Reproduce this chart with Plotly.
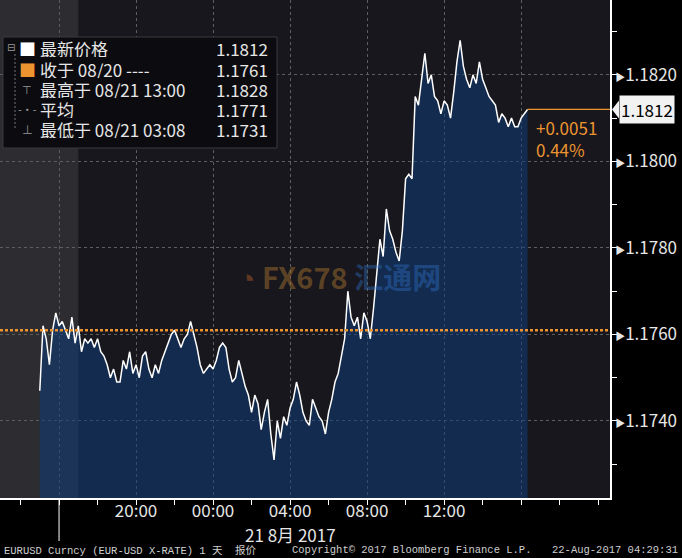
import plotly.graph_objects as go
import pandas as pd

# ---------------- data ----------------
start_time = "2017-08-20 15:00"   # first sample, 10-minute bars
prices = [
    1.1747, 1.1762, 1.1759, 1.1753, 1.1761, 1.1765, 1.1762, 1.1763, 1.1761, 1.1759,
    1.1764, 1.1758, 1.1762, 1.1756, 1.1759, 1.1758, 1.1759, 1.1757, 1.1759, 1.1756,
    1.1755, 1.1753, 1.1750, 1.1752, 1.1749, 1.1749, 1.1754, 1.1752, 1.1756, 1.1751,
    1.1753, 1.1750, 1.1755, 1.1756, 1.1752, 1.1750, 1.1753, 1.1751, 1.1754, 1.1756,
    1.1758, 1.1760, 1.1761, 1.1759, 1.1757, 1.1759, 1.1760, 1.1763, 1.1760, 1.1757,
    1.1753, 1.1751, 1.1752, 1.1753, 1.1752, 1.1754, 1.1757, 1.1758, 1.1757, 1.1752,
    1.1749, 1.1750, 1.1754, 1.1751, 1.1748, 1.1746, 1.1742, 1.1746, 1.1744, 1.1738,
    1.1742, 1.1745, 1.1737, 1.1731, 1.1740, 1.1736, 1.1741, 1.1739, 1.1743, 1.1745,
    1.1749, 1.1746, 1.1742, 1.1740, 1.1739, 1.1745, 1.1743, 1.1741, 1.1740, 1.1737,
    1.1742, 1.1745, 1.1749, 1.1751, 1.1755, 1.1759, 1.1770, 1.1764, 1.1762, 1.1764,
    1.1759, 1.1765, 1.1763, 1.1759, 1.1766, 1.1775, 1.1782, 1.1778, 1.1789, 1.1784,
    1.1782, 1.1779, 1.1777, 1.1784, 1.1796, 1.1797, 1.1796, 1.1815, 1.1813, 1.1819,
    1.1825, 1.1818, 1.1820, 1.1815, 1.1814, 1.1811, 1.1814, 1.1813, 1.1810, 1.1816,
    1.1823, 1.1828, 1.1822, 1.1819, 1.1817, 1.1820, 1.1818, 1.1823, 1.1819, 1.1817,
    1.1815, 1.1814, 1.1813, 1.1809, 1.1811, 1.1810, 1.1808, 1.1810, 1.1808, 1.1808,
    1.1810, 1.1811, 1.1812,
]
times = pd.date_range(start_time, periods=len(prices), freq="10min")

prev_close = 1.1761
legend_labels = ["最新价格", "收于 08/20 ----", "最高于 08/21 13:00", "平均", "最低于 08/21 03:08"]
legend_values = ["1.1812", "1.1761", "1.1828", "1.1771", "1.1731"]
change_text = "+0.0051"
change_pct = "0.44%"

x_range = ["2017-08-20 12:56", "2017-08-21 20:37"]
y_range = [1.17222, 1.18373]
prev_session_end = "2017-08-20 17:00"
day_separator = "2017-08-20 16:00"
x_tickvals = ["2017-08-20 16:00", "2017-08-20 20:00", "2017-08-21 00:00", "2017-08-21 04:00",
              "2017-08-21 08:00", "2017-08-21 12:00", "2017-08-21 16:00"]
x_ticktext = ["", "20:00", "00:00", "04:00", "08:00", "12:00", ""]
y_tickvals = [1.1740, 1.1760, 1.1780, 1.1800, 1.1820]
y_ticktext = ["1.1740", "1.1760", "1.1780", "1.1800", "1.1820"]
date_label = "21 8月 2017"
footer_left = "EURUSD Curncy (EUR-USD X-RATE) 1 天  报价"
footer_mid = "Copyright© 2017 Bloomberg Finance L.P."
footer_right = "22-Aug-2017 04:29:31"

# ---------------- layout helpers ----------------
W, H = 682, 558
PW, PH = 610, 498          # plot area in pixels


def px(x):
    return x / PW


def py(y):
    return 1 - y / PH


FONT = "Noto Sans CJK SC"
TXT = "#e6e6e6"
ORANGE = "#ec9430"

fig = go.Figure()
fig.add_trace(go.Scatter(
    x=times, y=prices, mode="lines",
    line=dict(color="white", width=1.5),
    fill="tozeroy", fillcolor="rgba(16,60,120,0.55)",
    hoverinfo="skip", showlegend=False,
))

shapes = []
# previous-session grey band
shapes.append(dict(type="rect", xref="x", yref="paper", x0=x_range[0], x1=prev_session_end,
                   y0=0, y1=1, fillcolor="#2c2c31", line_width=0, layer="below"))
# previous close line
shapes.append(dict(type="line", xref="paper", yref="y", x0=0, x1=1, y0=prev_close, y1=prev_close,
                   line=dict(color=ORANGE, width=2.5, dash="3px,2px"), layer="above"))
# last price line to axis
shapes.append(dict(type="line", xref="x", yref="y", x0=times[-1], x1=x_range[1],
                   y0=prices[-1], y1=prices[-1], line=dict(color=ORANGE, width=1.2)))
# day separator below axis
shapes.append(dict(type="line", xref="x", yref="paper", x0=day_separator, x1=day_separator,
                   y0=0, y1=py(541), line=dict(color="white", width=1)))
# price tag pointer
shapes.append(dict(type="path", xref="paper", yref="y", xsizemode="pixel", ysizemode="pixel",
                   xanchor=1, yanchor=prices[-1], path="M 2,0 L 9,9 L 9,-9 Z",
                   fillcolor="#f2f2f2", line_width=0))
# legend box
shapes.append(dict(type="rect", xref="paper", yref="paper", x0=px(3), x1=px(277), y0=py(148), y1=py(37),
                   fillcolor="#0c0b10", line=dict(color="#3a3a3e", width=1), layer="above"))
# legend tree line
shapes.append(dict(type="line", xref="paper", yref="paper", x0=px(15), x1=px(15), y0=py(54), y1=py(130),
                   line=dict(color="#777", width=1, dash="2px,2px"), layer="above"))

annotations = []
row_y = [48, 69, 89, 109, 129]
icons = [
    "<span style='color:white'>■</span>",
    "<span style='color:%s'>■</span>" % ORANGE,
    "<span style='color:#999;font-size:11px'>⊤</span>",
    "<span style='color:#999;font-size:11px'>-•-</span>",
    "<span style='color:#999;font-size:11px'>⊥</span>",
]
legend_font = dict(family=FONT, size=17, color=TXT)
for i, (lab, val) in enumerate(zip(legend_labels, legend_values)):
    yy = py(row_y[i])
    common = dict(xref="paper", yref="paper", y=yy, showarrow=False, yanchor="middle",
                  height=18, borderpad=0, font=legend_font)
    annotations.append(dict(x=px(39), text=lab, xanchor="left", **common))
    annotations.append(dict(x=px(269), text=val, xanchor="right", **common))
    annotations.append(dict(x=px(27), text=icons[i], xanchor="center", **common))
annotations.append(dict(xref="paper", yref="paper", x=px(11), y=py(48), text="⊟", showarrow=False,
                        xanchor="center", yanchor="middle", font=dict(family="DejaVu Sans", size=10, color="#999")))

# change annotation
annotations.append(dict(xref="x", yref="y", x=times[-1], y=prices[-1], xshift=6, yshift=-4,
                        text=change_text + "<br>" + change_pct, showarrow=False, align="left",
                        xanchor="left", yanchor="top", font=dict(family=FONT, size=17, color=ORANGE)))
# last price tag
annotations.append(dict(xref="paper", yref="y", x=1, y=prices[-1], xshift=9, text=str(prices[-1]),
                        showarrow=False, xanchor="left", yanchor="middle", bgcolor="#f2f2f2",
                        borderpad=1, font=dict(family=FONT, size=17, color="black")))
# date label
annotations.append(dict(xref="x", yref="paper", x="2017-08-21 04:00", y=py(534), text=date_label,
                        showarrow=False, xanchor="center", yanchor="middle",
                        font=dict(family=FONT, size=17, color=TXT)))
# watermark
annotations.append(dict(xref="paper", yref="paper", x=px(340), y=py(276),
                        text="<span style='color:rgba(190,100,40,0.45)'>◔</span> "
                             "<span style='color:rgba(190,130,50,0.42)'><b>FX678</b></span> "
                             "<span style='color:rgba(50,120,210,0.40)'><b>汇通网</b></span>",
                        showarrow=False, xanchor="center", yanchor="middle",
                        font=dict(family=FONT, size=29)))
# footer
for txt, xx, anc in [(footer_left, 2, "left"), (footer_mid, 290, "left"), (footer_right, 680, "right")]:
    annotations.append(dict(xref="paper", yref="paper", x=px(xx), y=py(550), text=txt, showarrow=False,
                            xanchor=anc, yanchor="middle",
                            font=dict(family="Liberation Mono, Noto Sans CJK SC", size=10.5, color="#cfcfcf")))

y_ticktext_fmt = ["<span style='font-size:10px'>▶</span>" + t for t in y_ticktext]

fig.update_layout(
    width=W, height=H,
    margin=dict(l=0, r=W - PW, t=0, b=H - PH),
    paper_bgcolor="black", plot_bgcolor="#18171d",
    showlegend=False,
    xaxis=dict(
        type="date", range=x_range, tickvals=x_tickvals, ticktext=x_ticktext,
        showgrid=True, gridcolor="#5e5e5e", griddash="3px,3px", gridwidth=1,
        ticks="outside", ticklen=5, tickcolor="white", ticklabelstandoff=-8,
        showline=True, linecolor="white", linewidth=1.5, zeroline=False,
        minor=dict(dtick=2 * 3600 * 1000, tick0="2017-08-20 14:00", ticks="outside",
                   ticklen=5, tickcolor="white", showgrid=False),
        tickfont=dict(family=FONT, size=17, color=TXT), fixedrange=True,
    ),
    yaxis=dict(
        side="right", range=y_range, tickvals=y_tickvals, ticktext=y_ticktext_fmt,
        showgrid=True, gridcolor="#5e5e5e", griddash="3px,3px", gridwidth=1,
        ticks="", showline=True, linecolor="white", linewidth=1.5, zeroline=False,
        minor=dict(dtick=0.001, tick0=1.171, ticks="outside", ticklen=5, tickcolor="white", showgrid=False),
        tickfont=dict(family=FONT, size=17, color=TXT), fixedrange=True,
    ),
    shapes=shapes, annotations=annotations,
)

fig.write_html(
    "out.html",
    config={"displayModeBar": False},
    post_script="document.body.style.margin='0px';document.body.style.background='black';",
)
